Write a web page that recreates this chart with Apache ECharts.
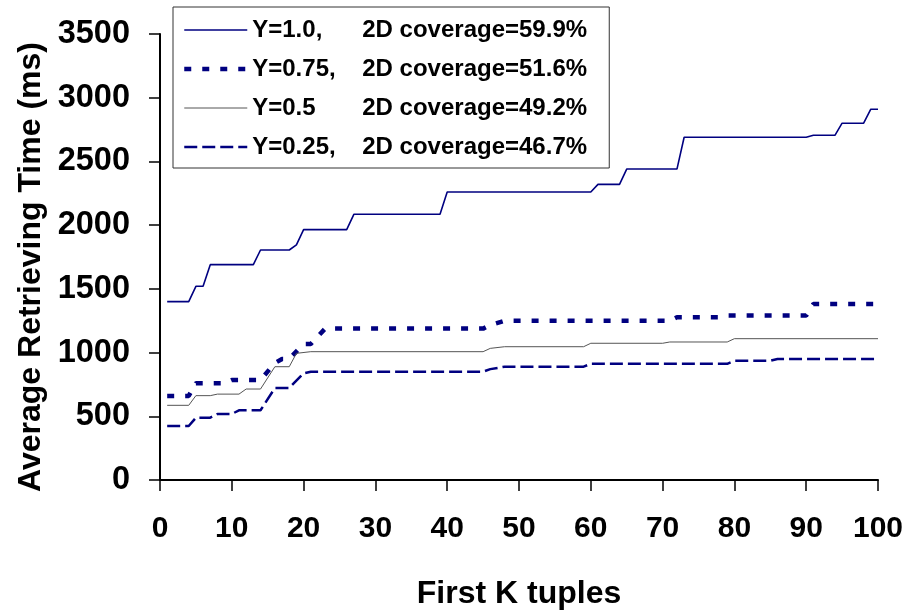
<!DOCTYPE html>
<html>
<head>
<meta charset="utf-8">
<script src="https://cdn.jsdelivr.net/npm/echarts@6/dist/echarts.min.js"></script>
<style>
html,body{margin:0;padding:0;background:#fff;}
#chart{width:907px;height:611px;}
</style>
</head>
<body>
<div id="chart"></div>
<script>
// Series names and legend text
const seriesNames = ['Y=1.0,', 'Y=0.75,', 'Y=0.5', 'Y=0.25,'];
const coverageText = ['2D coverage=59.9%', '2D coverage=51.6%', '2D coverage=49.2%', '2D coverage=46.7%'];

// Axis ticks
const xTicks = [0, 10, 20, 30, 40, 50, 60, 70, 80, 90, 100];
const yTicks = [0, 500, 1000, 1500, 2000, 2500, 3000, 3500];

// Y=1.0 (K, ms) breakpoints
const kY100 = [1, 4, 5, 6, 7, 13, 14, 18, 19, 20, 26, 27, 39, 40, 60, 61, 64, 65, 72, 73, 90, 91, 94, 95, 98, 99, 100];
const tY100 = [1400, 1400, 1520, 1520, 1690, 1690, 1805, 1805, 1845, 1965, 1965, 2085, 2085, 2260, 2260, 2320, 2320, 2440, 2440, 2690, 2690, 2705, 2705, 2800, 2800, 2910, 2910];

// Y=0.75
const kY075 = [1, 4, 5, 9, 10, 14, 16, 17, 18, 20, 21, 23, 45, 46, 48, 71, 72, 78, 79, 90, 91, 100];
const tY075 = [660, 660, 760, 760, 785, 785, 918, 950, 950, 1067, 1067, 1188, 1188, 1216, 1250, 1250, 1277, 1277, 1290, 1290, 1381, 1381];

// Y=0.5
const kY050 = [1, 4, 5, 7, 8, 11, 12, 14, 16, 18, 19, 21, 45, 46, 48, 59, 60, 70, 71, 79, 80, 100];
const tY050 = [586, 586, 662, 662, 674, 674, 714, 714, 889, 889, 994, 1007, 1007, 1033, 1046, 1046, 1073, 1073, 1083, 1083, 1109, 1109];

// Y=0.25
const kY025 = [1, 4, 5, 7, 8, 10, 11, 14, 16, 18, 20, 21, 45, 46, 48, 59, 60, 79, 80, 85, 86, 100];
const tY025 = [424, 424, 489, 489, 518, 518, 547, 547, 722, 722, 837, 850, 850, 870, 889, 889, 912, 912, 936, 936, 950, 950];

const zip = (ks, vs) => ks.map((k, i) => [k, vs[i]]);
const FONT = "'Liberation Sans', Arial, Helvetica, sans-serif";
const NAVY = '#000080';

const styles = [
  {color: NAVY, width: 1.6, type: 'solid'},
  {color: NAVY, width: 4.5, type: [7, 11]},
  {color: '#555555', width: 1, type: 'solid'},
  {color: NAVY, width: 2.5, type: [13, 5]}
];

const chart = echarts.init(document.getElementById('chart'), null, {renderer: 'canvas'});

const mk = (idx, data) => ({
  name: seriesNames[idx],
  type: 'line',
  data: data,
  symbol: 'none',
  showSymbol: false,
  animation: false,
  lineStyle: {color: styles[idx].color, width: styles[idx].width, type: styles[idx].type, cap: 'butt'},
  itemStyle: {color: styles[idx].color}
});

const option = {
  animation: false,
  backgroundColor: '#fff',
  grid: {left: 160, right: 29, top: 34, bottom: 131, containLabel: false, outerBoundsMode: 'none'},
  legend: {
    orient: 'vertical',
    left: 173,
    top: 7,
    backgroundColor: '#fff',
    borderColor: '#333',
    borderWidth: 1,
    padding: [11, 20, 9, 9],
    itemGap: 15,
    itemWidth: 63,
    itemHeight: 16,
    itemStyle: {opacity: 0, color: 'transparent', borderColor: 'transparent', borderWidth: 0},
    data: seriesNames.map((n, i) => ({
      name: n,
      itemStyle: {opacity: 0, color: 'transparent', borderColor: 'transparent', borderWidth: 0},
      lineStyle: {color: styles[i].color, width: styles[i].width, type: styles[i].type, cap: 'butt', opacity: 1}
    })),
    formatter: function (name) {
      const i = seriesNames.indexOf(name);
      return '{a|' + name + '}{b|' + coverageText[i] + '}';
    },
    textStyle: {
      rich: {
        a: {width: 110, fontFamily: FONT, fontWeight: 'bold', fontSize: 24, color: '#000', lineHeight: 24},
        b: {width: 227, fontFamily: FONT, fontWeight: 'bold', fontSize: 24, color: '#000', lineHeight: 24}
      }
    }
  },
  xAxis: {
    type: 'value',
    min: 0, max: 100, interval: 10,
    name: 'First K tuples',
    nameLocation: 'middle',
    nameGap: 98,
    nameTextStyle: {fontFamily: FONT, fontWeight: 'bold', fontSize: 32, color: '#000'},
    axisLine: {onZero: false, lineStyle: {color: '#000', width: 2}},
    axisTick: {length: 11, lineStyle: {color: '#000', width: 1.5}},
    axisLabel: {margin: 34, fontFamily: FONT, fontWeight: 'bold', fontSize: 30, color: '#000',
      formatter: v => xTicks.includes(v) ? String(v) : ''},
    splitLine: {show: false}
  },
  yAxis: {
    type: 'value',
    min: 0, max: 3500, interval: 500,
    name: 'Average Retrieving Time (ms)',
    nameLocation: 'middle',
    nameGap: 112,
    nameTextStyle: {fontFamily: FONT, fontWeight: 'bold', fontSize: 32, color: '#000', padding: [0, 20, 0, 0]},
    axisLine: {show: true, onZero: false, lineStyle: {color: '#000', width: 2}},
    axisTick: {show: true, length: 11, lineStyle: {color: '#000', width: 1.5}},
    axisLabel: {margin: 30, fontFamily: FONT, fontWeight: 'bold', fontSize: 32.5, color: '#000',
      formatter: v => yTicks.includes(v) ? String(v) : ''},
    splitLine: {show: false}
  },
  series: [
    mk(0, zip(kY100, tY100)),
    mk(1, zip(kY075, tY075)),
    mk(2, zip(kY050, tY050)),
    mk(3, zip(kY025, tY025))
  ]
};
chart.setOption(option);
</script>
</body>
</html>
